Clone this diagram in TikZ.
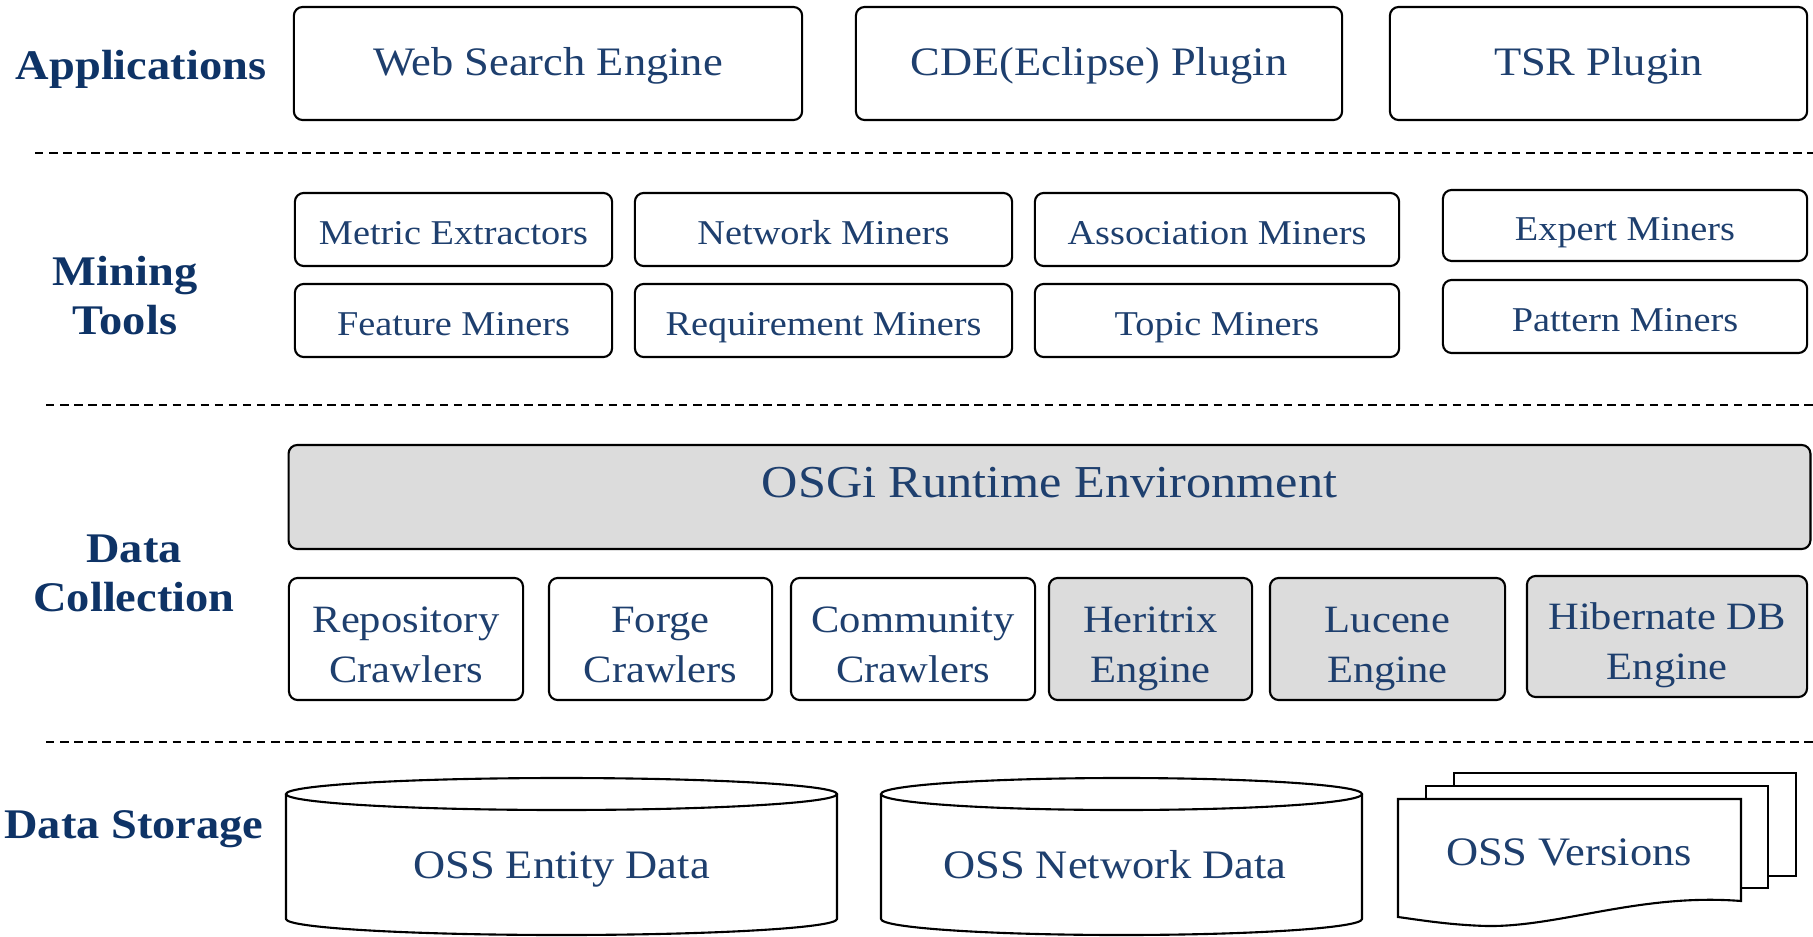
\documentclass[tikz,border=0pt]{standalone}
\usepackage{fontspec}
\setmainfont[FakeStretch=1.1]{Liberation Serif}
\usetikzlibrary{positioning}

\definecolor{txtblue}{HTML}{1E3F6E}
\definecolor{lblblue}{HTML}{0E3366}
\definecolor{boxgrey}{HTML}{DCDCDC}

\newcommand\topstrut[1]{\rule{0pt}{#1\baselineskip}}
\newcommand\botstrut{\rule[-0.3\baselineskip]{0pt}{0pt}}

\tikzset{
  box/.style={draw, line width=0.6pt, rounded corners=2.5pt, text=txtblue, align=center, inner sep=0pt},
  grey/.style={fill=boxgrey},
  layer/.style={text=lblblue, align=center, font=\fontsize{12}{14}\selectfont\bfseries},
  layer1/.style={layer, text height=0pt, text depth=0pt},
  layer2/.style={layer, text height=21pt, text depth=0pt},
  sep/.style={line width=0.5pt, dash pattern=on 2.4pt off 1.6pt},
  store/.style={line width=0.6pt, fill=white},
  apptxt/.style={font=\fontsize{11.5}{14}\selectfont,
    execute at begin node=\topstrut{0.8}, execute at end node=\botstrut},
  minetxt/.style={font=\fontsize{9.9}{12}\selectfont,
    execute at begin node=\topstrut{1.0}, execute at end node=\botstrut},
  colltxt/.style={font=\fontsize{11}{14.2}\selectfont, text height=24.5pt, text depth=0pt},
  storetxt/.style={text=txtblue, font=\fontsize{11.5}{14}\selectfont, text height=0pt, text depth=0pt},
}

\begin{document}
\begin{tikzpicture}[x=0.01cm, y=-0.01cm]
  \useasboundingbox (0,0) rectangle (1813,937);

  % layer names
  \node[layer1] (lapps) at (141,80) {Applications};
  \node[layer2] (lmine) at (125,298) {Mining\\Tools};
  \node[layer2] (lcoll) at (134,575) {Data\\Collection};
  \node[layer1] (lstore) at (134,838) {Data Storage};

  % separators
  \coordinate (s1a) at (35,153);   \coordinate (s1b) at (1813,153);
  \coordinate (s2a) at (46,405);   \coordinate (s2b) at (1813,405);
  \coordinate (s3a) at (46,742);   \coordinate (s3b) at (1813,742);
  \draw[sep] (s1a) -- (s1b);
  \draw[sep] (s2a) -- (s2b);
  \draw[sep] (s3a) -- (s3b);

  % applications
  \node[box,apptxt,minimum width=5.08cm,minimum height=1.13cm] (web) at (548,63.5) {Web Search Engine};
  \node[box,apptxt,minimum width=4.86cm,minimum height=1.13cm] (cde) at (1099,63.5) {CDE(Eclipse) Plugin};
  \node[box,apptxt,minimum width=4.17cm,minimum height=1.13cm] (tsr) at (1598.5,63.5) {TSR Plugin};

  % mining tools
  \node[box,minetxt,minimum width=3.17cm,minimum height=0.73cm] (metric) at (453.5,229.5) {Metric Extractors};
  \node[box,minetxt,minimum width=3.77cm,minimum height=0.73cm] (network) at (823.5,229.5) {Network Miners};
  \node[box,minetxt,minimum width=3.64cm,minimum height=0.73cm] (assoc) at (1217,229.5) {Association Miners};
  \node[box,minetxt,minimum width=3.64cm,minimum height=0.71cm] (expert) at (1625,225.5) {Expert Miners};
  \node[box,minetxt,minimum width=3.17cm,minimum height=0.73cm] (feature) at (453.5,320.5) {Feature Miners};
  \node[box,minetxt,minimum width=3.77cm,minimum height=0.73cm] (require) at (823.5,320.5) {Requirement Miners};
  \node[box,minetxt,minimum width=3.64cm,minimum height=0.73cm] (topic) at (1217,320.5) {Topic Miners};
  \node[box,minetxt,minimum width=3.64cm,minimum height=0.73cm] (pattern) at (1625,316.5) {Pattern Miners};

  % data collection
  \node[box,grey,font=\fontsize{13}{15}\selectfont,text height=0pt,text depth=0pt,
    minimum width=15.21cm,minimum height=1.04cm] (osgi) at (1049.5,497) {OSGi Runtime Environment};
  \node[box,colltxt,minimum width=2.34cm,minimum height=1.22cm] (repo) at (406,639) {Repository\\Crawlers};
  \node[box,colltxt,minimum width=2.23cm,minimum height=1.22cm] (forge) at (660.5,639) {Forge\\Crawlers};
  \node[box,colltxt,minimum width=2.44cm,minimum height=1.22cm] (comm) at (913,639) {Community\\Crawlers};
  \node[box,grey,colltxt,minimum width=2.03cm,minimum height=1.22cm] (heritrix) at (1150.5,639) {Heritrix\\Engine};
  \node[box,grey,colltxt,minimum width=2.35cm,minimum height=1.22cm] (lucene) at (1387.5,639) {Lucene\\Engine};
  \node[box,grey,colltxt,minimum width=2.80cm,minimum height=1.21cm] (hibernate) at (1667,636.5) {Hibernate DB\\Engine};

  % data storage
  \draw[store] (286,794) -- (286,919) arc[start angle=180, end angle=0, x radius=275.5, y radius=16] -- (837,794);
  \draw[store] (561.5,794) ellipse [x radius=275.5, y radius=16];
  \draw[store] (881,794) -- (881,919) arc[start angle=180, end angle=0, x radius=240.5, y radius=16] -- (1362,794);
  \draw[store] (1121.5,794) ellipse [x radius=240.5, y radius=16];

  \draw[store] (1454,773) rectangle (1796,876);
  \draw[store] (1426,786) rectangle (1768,888);
  \draw[store] (1398,917) -- (1398,799) -- (1741,799) -- (1741,901)
    .. controls (1640,893) and (1560,927) .. (1487,926)
    .. controls (1450,925) and (1420,920) .. (1398,917) -- cycle;

  \node[storetxt] (entity) at (561.5,878) {OSS Entity Data};
  \node[storetxt] (netdata) at (1115,878) {OSS Network Data};
  \node[storetxt] (versions) at (1569,865) {OSS Versions};
\end{tikzpicture}
\end{document}
